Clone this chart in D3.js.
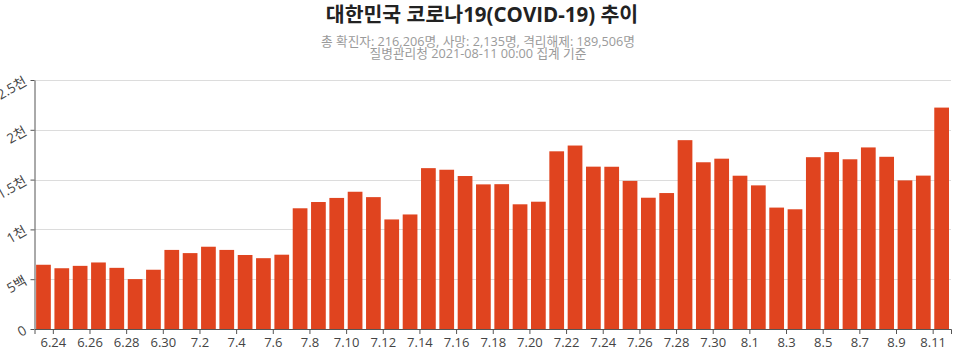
<!DOCTYPE html>
<html>
<head>
<meta charset="utf-8">
<script src="https://cdn.jsdelivr.net/npm/d3@7"></script>
<style>
  html, body { margin: 0; padding: 0; background: #fff; }
  svg { display: block; overflow: visible; }
  text { font-family: "Open Sans", "Noto Sans CJK KR", sans-serif; }
</style>
</head>
<body>
<svg id="chart" width="960" height="352"></svg>
<script>
const dates = ["2021-06-23","2021-06-24","2021-06-25","2021-06-26","2021-06-27","2021-06-28","2021-06-29","2021-06-30",
  "2021-07-01","2021-07-02","2021-07-03","2021-07-04","2021-07-05","2021-07-06","2021-07-07","2021-07-08","2021-07-09",
  "2021-07-10","2021-07-11","2021-07-12","2021-07-13","2021-07-14","2021-07-15","2021-07-16","2021-07-17","2021-07-18",
  "2021-07-19","2021-07-20","2021-07-21","2021-07-22","2021-07-23","2021-07-24","2021-07-25","2021-07-26","2021-07-27",
  "2021-07-28","2021-07-29","2021-07-30","2021-07-31","2021-08-01","2021-08-02","2021-08-03","2021-08-04","2021-08-05",
  "2021-08-06","2021-08-07","2021-08-08","2021-08-09","2021-08-10","2021-08-11"];
const cases = [645,610,634,668,614,501,595,794,762,826,794,743,711,746,1212,1275,1316,1378,1324,1100,1150,1615,1599,1536,
  1452,1454,1252,1278,1784,1842,1630,1629,1487,1318,1365,1896,1674,1710,1539,1442,1219,1202,1725,1776,1704,1823,1729,1492,1540,2223];
const xTickDates = ["2021-06-24","2021-06-26","2021-06-28","2021-06-30","2021-07-02","2021-07-04","2021-07-06","2021-07-08",
  "2021-07-10","2021-07-12","2021-07-14","2021-07-16","2021-07-18","2021-07-20","2021-07-22","2021-07-24","2021-07-26",
  "2021-07-28","2021-07-30","2021-08-01","2021-08-03","2021-08-05","2021-08-07","2021-08-09","2021-08-11"];
const yTicks = [0, 500, 1000, 1500, 2000, 2500];
const yTickLabels = ["0", "5백", "1천", "1.5천", "2천", "2.5천"];
const titleText = "대한민국 코로나19(COVID-19) 추이";
const subtitleLines = ["총 확진자: 216,206명, 사망: 2,135명, 격리해제: 189,506명", "질병관리청 2021-08-11 00:00 집계 기준"];

const parse = d3.utcParse("%Y-%m-%d");
const data = dates.map((d, i) => ({ date: parse(d), value: cases[i] }));

const svg = d3.select("#chart");
const mLeft = 34.5, mRight = 951, mTop = 80, mBottom = 329;

const x = d3.scaleUtc()
  .domain([parse("2021-06-23"), d3.utcDay.offset(parse("2021-08-11"), 1)])
  .range([mLeft, mRight]);
const y = d3.scaleLinear().domain([0, 2500]).range([mBottom, mTop]);

// title
svg.append("text").attr("x", 482).attr("y", 22).attr("text-anchor", "middle")
  .style("font-size", "20.5px").style("font-weight", "bold").style("fill", "#222")
  .text(titleText);
svg.selectAll("text.sub").data(subtitleLines).join("text").attr("class", "sub")
  .attr("x", 478).attr("y", (d, i) => 45.5 + i * 12).attr("text-anchor", "middle")
  .style("font-size", "12.7px").style("fill", "#9a9a9a").text(d => d);

// grid
svg.append("g").selectAll("line").data(yTicks.slice(1)).join("line")
  .attr("x1", mLeft).attr("x2", mRight)
  .attr("y1", d => Math.round(y(d)) + 0.5).attr("y2", d => Math.round(y(d)) + 0.5)
  .attr("stroke", "#dcdcdc").attr("stroke-width", 1);

// bars
svg.append("g").selectAll("rect").data(data).join("rect")
  .attr("x", d => x(d.date) + 1.6)
  .attr("width", d => x(d3.utcDay.offset(d.date, 1)) - x(d.date) - 3.6)
  .attr("y", d => y(d.value))
  .attr("height", d => y(0) - y(d.value))
  .attr("fill", "#e0441f");

// x axis
const xAxis = d3.axisBottom(x)
  .tickValues(xTickDates.map(parse))
  .tickFormat(d3.utcFormat("%-m.%-d"))
  .tickSize(5).tickSizeOuter(5);
const gx = svg.append("g").attr("transform", `translate(0,${mBottom})`).call(xAxis);
gx.select(".domain").attr("stroke", "#555");
gx.selectAll(".tick line").attr("stroke", "#555");
gx.selectAll(".tick text").attr("dy", "0.76em").style("font-size", "13px").style("fill", "#444")
  .style("font-family", "\"Open Sans\", \"Noto Sans CJK KR\", sans-serif");

// y axis
const yAxis = d3.axisLeft(y)
  .tickValues(yTicks)
  .tickFormat((d, i) => yTickLabels[i])
  .tickSize(4).tickSizeOuter(0);
const gy = svg.append("g").attr("transform", `translate(${mLeft},0)`).call(yAxis);
gy.select(".domain").attr("stroke", "#555");
gy.selectAll(".tick line").attr("stroke", "#555");
gy.selectAll(".tick text")
  .attr("x", -9).attr("dy", "0.32em")
  .attr("transform", "rotate(-30,-9,0)")
  .style("font-size", "13.5px").style("fill", "#444")
  .style("font-family", "\"Open Sans\", \"Noto Sans CJK KR\", sans-serif");
</script>
</body>
</html>
